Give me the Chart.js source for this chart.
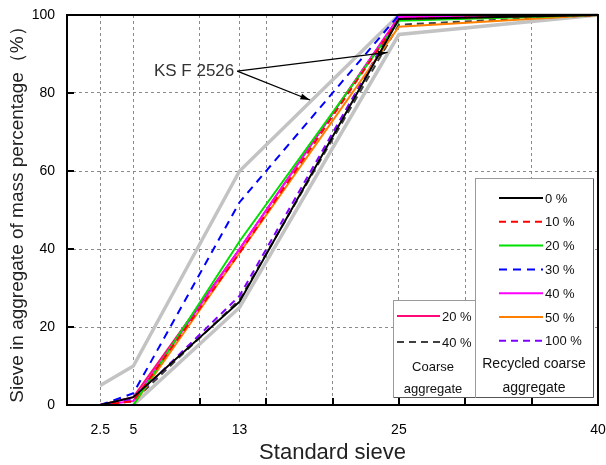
<!DOCTYPE html>
<html>
<head>
<meta charset="utf-8">
<script src="https://cdn.jsdelivr.net/npm/chart.js@4/dist/chart.umd.min.js"></script>
<style>
  html, body { margin: 0; padding: 0; background: #fff; }
</style>
</head>
<body>
<canvas id="sieveChart" width="606" height="465"></canvas>
<script>
// sieve sizes (mm) and percentages passing
var sieves = [2.5, 5, 13, 25, 40];
var gridPositions = [0, 2.5, 5, 10, 13, 15, 20, 25, 30, 35, 40];
var labeledSieves = [2.5, 5, 13, 25, 40];
var tickMarks = [10, 15, 20, 25, 30, 35];

var ksUpper = [5, 10, 60, 100, 100];
var ksLower = [null, 0, 25, 95, 100];

var rca0 = [0, 2, 26.5, 99, 100];
var rca10 = [0, 1, 39, 99, 100];
var rca20 = [0, 0, 42, 98.5, 100];
var rca30 = [0, 3, 52, 100, 100];
var rca40 = [0, 1, 40, 99.5, 100];
var rca50 = [0, 0, 39, 97, 100];
var rca100 = [0, 1.5, 28, 99.5, 100];

var coarse20 = [0, 2, 40, 99.5, 100];
var coarse40 = [0, 1, 27, 97.5, 100];

var FONT = '"Liberation Sans", Arial, sans-serif';

function toPoints(vals) {
    return sieves.map(function (s, i) { return { x: s, y: vals[i] }; });
}

function line(label, vals, color, dash, group) {
    return {
        label: label,
        data: toPoints(vals),
        borderColor: color,
        backgroundColor: color,
        borderWidth: 2,
        borderDash: dash || [],
        pointRadius: 0,
        tension: 0,
        fill: false,
        clip: 4,
        legendGroup: group,
        order: 1
    };
}

var ksStyle = function (label, vals) {
    return {
        label: label,
        data: toPoints(vals),
        borderColor: '#c3c3c3',
        borderWidth: 3.5,
        pointRadius: 0,
        tension: 0,
        fill: false,
        clip: 4,
        order: 10
    };
};

var datasets = [
    line('0 %', rca0, '#000000', null, 'recycled'),
    line('10 %', rca10, '#ff0000', [7, 5], 'recycled'),
    line('20 %', rca20, '#00e000', null, 'recycled'),
    line('30 %', rca30, '#0000ff', [8, 6], 'recycled'),
    line('40 %', rca40, '#ff00ff', null, 'recycled'),
    line('50 %', rca50, '#ff8000', null, 'recycled'),
    line('100 %', rca100, '#8000ff', [7, 5], 'recycled'),
    line('20 %', coarse20, '#ff0a78', null, 'coarse'),
    line('40 %', coarse40, '#404040', [7, 5], 'coarse'),
    ksStyle('KS upper', ksUpper),
    ksStyle('KS lower', ksLower)
];

var decor = {
    id: 'decor',
    afterDatasetsDraw: function (chart) {
        var ctx = chart.ctx, a = chart.chartArea;
        var xs = chart.scales.x, ys = chart.scales.y;
        ctx.save();
        ctx.strokeStyle = '#000';
        ctx.lineWidth = 2;
        ctx.setLineDash([]);
        ctx.beginPath();
        tickMarks.forEach(function (v) {
            var px = Math.round(xs.getPixelForValue(v));
            ctx.moveTo(px, a.bottom);
            ctx.lineTo(px, a.bottom - 7);
        });
        [20, 40, 60, 80].forEach(function (v) {
            var py = Math.round(ys.getPixelForValue(v));
            ctx.moveTo(a.left, py);
            ctx.lineTo(a.left + 7, py);
        });
        ctx.stroke();
        ctx.lineWidth = 2;
        ctx.strokeRect(a.left, a.top, a.right - a.left, a.bottom - a.top);
        ctx.restore();
    },
    afterDraw: function (chart) {
        var ctx = chart.ctx;
        var xs = chart.scales.x, ys = chart.scales.y;
        ctx.save();
        // KS F 2526 label with arrows
        var tx = xs.getPixelForValue(12.6), ty = ys.getPixelForValue(85.6);
        ctx.font = '17px ' + FONT;
        ctx.fillStyle = '#333';
        ctx.textAlign = 'right';
        ctx.textBaseline = 'middle';
        ctx.fillText('KS F 2526', tx, ty);
        [[24.15, 90.4], [18.3, 78.2]].forEach(function (t) {
            var ex = xs.getPixelForValue(t[0]), ey = ys.getPixelForValue(t[1]);
            var sx = tx + 3, sy = ty;
            var ang = Math.atan2(ey - sy, ex - sx);
            ctx.strokeStyle = '#000';
            ctx.lineWidth = 1.3;
            ctx.beginPath();
            ctx.moveTo(sx, sy);
            ctx.lineTo(ex, ey);
            ctx.stroke();
            ctx.fillStyle = '#000';
            ctx.beginPath();
            ctx.moveTo(ex, ey);
            ctx.lineTo(ex - 10 * Math.cos(ang - 0.3), ey - 10 * Math.sin(ang - 0.3));
            ctx.lineTo(ex - 10 * Math.cos(ang + 0.3), ey - 10 * Math.sin(ang + 0.3));
            ctx.closePath();
            ctx.fill();
        });

        function box(x, y, w, h) {
            ctx.fillStyle = '#fff';
            ctx.fillRect(x, y, w, h);
            ctx.strokeStyle = '#9a9a9a';
            ctx.lineWidth = 1;
            ctx.setLineDash([]);
            ctx.strokeRect(x + 0.5, y + 0.5, w, h);
            ctx.strokeStyle = '#555';
            ctx.beginPath();
            ctx.moveTo(x + w + 0.5, y + 1);
            ctx.lineTo(x + w + 0.5, y + h + 0.5);
            ctx.lineTo(x + 1, y + h + 0.5);
            ctx.stroke();
        }
        function items(group, x1, x2, y0, step) {
            var list = chart.data.datasets.filter(function (d) { return d.legendGroup === group; });
            list.forEach(function (d, i) {
                var y = y0 + i * step;
                ctx.strokeStyle = d.borderColor;
                ctx.lineWidth = 2;
                ctx.setLineDash(d.borderDash || []);
                ctx.beginPath();
                ctx.moveTo(x1, y);
                ctx.lineTo(x2, y);
                ctx.stroke();
                ctx.setLineDash([]);
                ctx.fillStyle = '#111';
                ctx.font = '13px ' + FONT;
                ctx.textAlign = 'left';
                ctx.textBaseline = 'middle';
                ctx.fillText(d.label, x2 + 2, y + 1);
            });
        }
        function caption(lines, cx, y0, step, size) {
            ctx.fillStyle = '#111';
            ctx.font = size + 'px ' + FONT;
            ctx.textAlign = 'center';
            ctx.textBaseline = 'middle';
            lines.forEach(function (t, i) { ctx.fillText(t, cx, y0 + i * step); });
        }
        box(393, 300, 82, 97);
        items('coarse', 397, 440, 316, 26);
        caption(['Coarse', 'aggregate'], 433, 367, 22, 13);

        box(475, 178, 118, 219);
        items('recycled', 499, 543, 198, 23.8);
        caption(['Recycled coarse', 'aggregate'], 534, 364, 24, 14);
        ctx.restore();
    }
};

var chartOptions = {
    responsive: false,
    animation: false,
    layout: { padding: { left: 0, right: 8, top: 15, bottom: 0 } },
    plugins: {
        legend: { display: false },
        tooltip: { enabled: false }
    },
    scales: {
        x: {
            type: 'linear',
            min: 0,
            max: 40,
            afterBuildTicks: function (scale) {
                scale.ticks = gridPositions.map(function (v) { return { value: v }; });
            },
            afterFit: function (scale) {
                scale.height = 60;
                scale.paddingLeft = 0;
                scale.paddingRight = 0;
            },
            ticks: {
                autoSkip: false,
                maxRotation: 0,
                padding: 17,
                color: '#000',
                font: { size: 14, family: FONT },
                callback: function (v) {
                    return labeledSieves.indexOf(v) >= 0 ? String(v) : '';
                }
            },
            grid: {
                drawTicks: false,
                lineWidth: 1,
                color: function (c) {
                    var v = c.tick ? c.tick.value : null;
                    return (v === 0 || v === 40) ? 'rgba(0,0,0,0)' : '#8a8a8a';
                }
            },
            border: { display: false, dash: [3, 3] },
            title: {
                display: true,
                text: 'Standard sieve',
                color: '#222',
                padding: { top: 0, bottom: 0 },
                font: { size: 22, family: FONT, lineHeight: 1.1 }
            }
        },
        y: {
            min: 0,
            max: 100,
            afterFit: function (scale) {
                scale.width = 67;
                scale.paddingTop = 0;
                scale.paddingBottom = 0;
            },
            ticks: {
                stepSize: 20,
                padding: 12,
                color: '#000',
                font: { size: 14, family: FONT }
            },
            grid: {
                drawTicks: false,
                lineWidth: 1,
                color: function (c) {
                    var v = c.tick ? c.tick.value : null;
                    return (v === 0 || v === 100) ? 'rgba(0,0,0,0)' : '#8a8a8a';
                }
            },
            border: { display: false, dash: [3, 3] },
            title: {
                display: true,
                text: 'Sieve in aggregate of mass percentage（%）',
                color: '#222',
                padding: { top: 6, bottom: 0 },
                font: { size: 19, family: FONT }
            }
        }
    }
};

var sieveCanvas = document.getElementById('sieveChart');
var gradingChart = new Chart(sieveCanvas, {
    type: 'line',
    data: { datasets: datasets },
    options: chartOptions,
    plugins: [decor]
});
</script>
</body>
</html>
